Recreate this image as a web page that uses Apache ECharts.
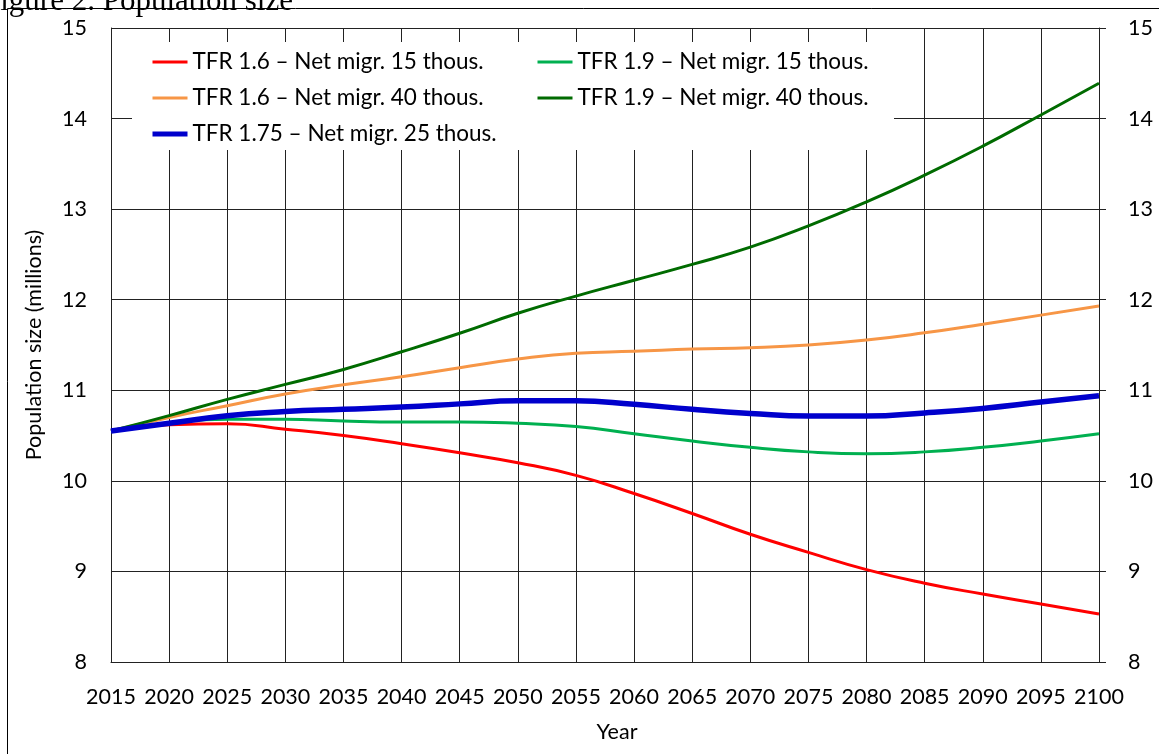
<!DOCTYPE html>
<html>
<head>
<meta charset="utf-8">
<script src="https://cdn.jsdelivr.net/npm/echarts@6/dist/echarts.min.js"></script>
<style>
  html, body { margin: 0; padding: 0; background: #fff; }
  #chart { width: 1159px; height: 754px; }
</style>
</head>
<body>
<div id="chart"></div>
<script>
// Chart Data
const years = ["2015", "2020", "2025", "2030", "2035", "2040", "2045", "2050", "2055",
  "2060", "2065", "2070", "2075", "2080", "2085", "2090", "2095", "2100"];

const tfr16_mig15 = [10.55, 10.62, 10.63, 10.57, 10.50, 10.41, 10.31, 10.20, 10.06,
  9.86, 9.64, 9.41, 9.21, 9.02, 8.87, 8.75, 8.64, 8.53];
const tfr16_mig40 = [10.55, 10.70, 10.83, 10.96, 11.06, 11.15, 11.25, 11.345, 11.41,
  11.43, 11.455, 11.47, 11.50, 11.555, 11.635, 11.73, 11.83, 11.93];
const tfr19_mig15 = [10.55, 10.64, 10.68, 10.68, 10.66, 10.65, 10.65, 10.635, 10.60,
  10.52, 10.44, 10.37, 10.32, 10.30, 10.32, 10.37, 10.44, 10.52];
const tfr19_mig40 = [10.55, 10.72, 10.90, 11.065, 11.23, 11.425, 11.63, 11.85, 12.04,
  12.215, 12.39, 12.58, 12.815, 13.08, 13.375, 13.695, 14.04, 14.39];
const tfr175_mig25 = [10.55, 10.635, 10.72, 10.765, 10.79, 10.815, 10.85, 10.885, 10.885,
  10.845, 10.79, 10.745, 10.715, 10.715, 10.75, 10.80, 10.87, 10.94];

const names = [
  "TFR 1.6 – Net migr. 15 thous.",
  "TFR 1.6 – Net migr. 40 thous.",
  "TFR 1.9 – Net migr. 15 thous.",
  "TFR 1.9 – Net migr. 40 thous.",
  "TFR 1.75 – Net migr. 25 thous.",
];

// Chart Functionalities
const font = "Lato";
const chart = echarts.init(document.getElementById("chart"), null, { renderer: "canvas" });

function lineSeries(name, data, color, width) {
  return {
    name: name,
    type: "line",
    data: data,
    smooth: 0.5,
    symbol: "none",
    lineStyle: { color: color, width: width },
    itemStyle: { color: color },
    z: 3,
  };
}

const legendText = { fontFamily: font, fontSize: 22.5, color: "#000", lineHeight: 24 };

const option = {
  backgroundColor: "#fff",
  animation: false,
  textStyle: { fontFamily: font },
  graphic: [
    {
      type: "rect",
      z: 1,
      shape: { x: 7.5, y: 8.5, width: 1300, height: 900 },
      style: { fill: "none", stroke: "#000", lineWidth: 1 },
      silent: true,
    },
    {
      type: "rect",
      z: 1,
      shape: { x: 132, y: 42, width: 762, height: 108 },
      style: { fill: "#fff" },
      silent: true,
    },
    {
      type: "text",
      z: 1,
      x: -17,
      y: 17,
      style: {
        text: "Figure 2. Population size",
        font: "31px 'Liberation Serif'",
        fill: "#000",
        verticalAlign: "bottom",
      },
    },
  ],
  legend: [
    {
      orient: "vertical",
      left: 150,
      top: 50,
      padding: 0,
      itemGap: 12,
      itemWidth: 35,
      itemHeight: 14,
      itemStyle: { opacity: 0 },
      textStyle: legendText,
      data: [
        { name: names[0], lineStyle: { width: 3 } },
        { name: names[1], lineStyle: { width: 3 } },
        { name: names[4], lineStyle: { width: 5 } },
      ],
    },
    {
      orient: "vertical",
      left: 536,
      top: 50,
      padding: 0,
      itemGap: 12,
      itemWidth: 35,
      itemHeight: 14,
      itemStyle: { opacity: 0 },
      textStyle: legendText,
      data: [
        { name: names[2], lineStyle: { width: 3 } },
        { name: names[3], lineStyle: { width: 3 } },
      ],
    },
  ],
  grid: { left: 111, right: 60, top: 28, bottom: 92, outerBoundsMode: "none" },
  xAxis: {
    type: "category",
    data: years,
    boundaryGap: false,
    name: "Year",
    nameLocation: "middle",
    nameGap: 59,
    nameTextStyle: { fontFamily: font, fontSize: 21.5, color: "#000", padding: [0, 0, 0, 24] },
    axisLine: { show: true, lineStyle: { color: "#222", width: 1 } },
    axisTick: { show: false },
    axisLabel: { interval: 0, margin: 24, fontFamily: font, fontSize: 21.5, color: "#000" },
    splitLine: { show: true, interval: 0, lineStyle: { color: "#222", width: 1 } },
  },
  yAxis: [
    {
      type: "value",
      min: 8,
      max: 15,
      interval: 1,
      position: "left",
      name: "Population size (millions)",
      nameLocation: "middle",
      nameGap: 66,
      nameTextStyle: { fontFamily: font, fontSize: 21.5, color: "#000" },
      axisLine: { show: true, lineStyle: { color: "#222", width: 1 } },
      axisTick: { show: false },
      axisLabel: { margin: 24, fontFamily: font, fontSize: 21.5, color: "#000" },
      splitLine: { show: true, lineStyle: { color: "#222", width: 1 } },
    },
    {
      type: "value",
      min: 8,
      max: 15,
      interval: 1,
      position: "right",
      axisLine: { show: true, lineStyle: { color: "#222", width: 1 } },
      axisTick: { show: true, length: 7, lineStyle: { color: "#222", width: 1 } },
      axisLabel: { margin: 29, fontFamily: font, fontSize: 21.5, color: "#000" },
      splitLine: { show: false },
    },
  ],
  series: [
    lineSeries(names[0], tfr16_mig15, "#ff0000", 3),
    lineSeries(names[1], tfr16_mig40, "#f79646", 3),
    lineSeries(names[2], tfr19_mig15, "#00b050", 3),
    lineSeries(names[3], tfr19_mig40, "#006b00", 3),
    lineSeries(names[4], tfr175_mig25, "#0000cc", 5.5),
  ],
};

chart.setOption(option);
</script>
</body>
</html>
